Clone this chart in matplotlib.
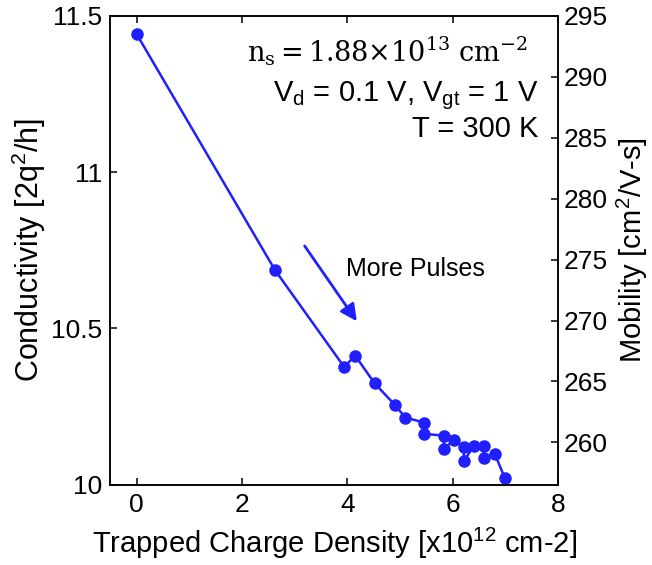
import numpy as np
import matplotlib
matplotlib.use('Agg')
import matplotlib.pyplot as plt

# trapped charge density [x10^12 cm-2] and conductivity [2q^2/h]
charge = [0.0, 2.63, 3.94, 4.15, 4.52, 4.90, 5.10, 5.46, 5.46, 5.83, 5.83,
          6.02, 6.21, 6.21, 6.40, 6.59, 6.59, 6.80, 6.99]
conductivity = [11.442, 10.686, 10.377, 10.413, 10.324, 10.256, 10.215, 10.199,
                10.163, 10.157, 10.115, 10.142, 10.120, 10.077, 10.123, 10.123,
                10.086, 10.098, 10.021]

# mobility axis is conductivity scaled by a constant
mob_per_cond = 295 / 11.5

x_ticks = [0, 2, 4, 6, 8]
cond_ticks = [10, 10.5, 11, 11.5]
mob_ticks = [260, 265, 270, 275, 280, 285, 290, 295]

plt.rcParams['font.family'] = ['Liberation Sans', 'DejaVu Sans']
plt.rcParams['mathtext.fontset'] = 'custom'
plt.rcParams['mathtext.rm'] = 'Liberation Sans'
plt.rcParams['mathtext.it'] = 'Liberation Sans:italic'
plt.rcParams['axes.linewidth'] = 1.1

blue = '#1f1fff'
fs = 19

fig = plt.figure(figsize=(6.52, 5.65), dpi=100)
ax = fig.add_axes([0.169, 0.142, 0.687, 0.830])

ax.plot(charge, conductivity, '-o', color=blue, lw=1.8, ms=8)

ax.set_xlim(-0.5, 8)
ax.set_ylim(10, 11.5)
ax.set_xticks(x_ticks)
ax.set_yticks(cond_ticks)
ax.set_yticklabels(['10', '10.5', '11', '11.5'])
ax.tick_params(axis='both', direction='in', length=5, width=1.1, labelsize=fs,
               top=True, pad=6)
ax.set_xlabel('Trapped Charge Density [x10$^{12}$ cm-2]', fontsize=21, labelpad=6)
ax.set_ylabel('Conductivity [2q$^2$/h]', fontsize=22, labelpad=2)

ax2 = ax.twinx()
ax2.set_ylim(10 * mob_per_cond, 11.5 * mob_per_cond)
ax2.set_yticks(mob_ticks)
ax2.tick_params(axis='y', direction='in', length=5, width=1.1, labelsize=fs, pad=4)
ax2.set_ylabel('Mobility [cm$^2$/V-s]', fontsize=21, labelpad=5)

ax.text(7.42, 11.353, r'$\mathrm{n_s = 1.88{\times}10^{13}\ cm^{-2}}$',
        math_fontfamily='dejavuserif', fontsize=19.5, ha='right', va='baseline')
ax.text(7.63, 11.228, r'V$_\mathrm{d}$ = 0.1 V, V$_\mathrm{gt}$ = 1 V',
        fontsize=21, ha='right', va='baseline')
ax.text(7.63, 11.112, 'T = 300 K', fontsize=21, ha='right', va='baseline')

ax.annotate('', xy=(4.18, 10.523), xytext=(3.19, 10.764),
            arrowprops=dict(arrowstyle='-|>', color=blue, lw=2,
                            mutation_scale=25, shrinkA=0, shrinkB=0))
ax.text(3.97, 10.69, 'More Pulses', fontsize=18, ha='left', va='center')

fig.savefig('out.png', dpi=100)
